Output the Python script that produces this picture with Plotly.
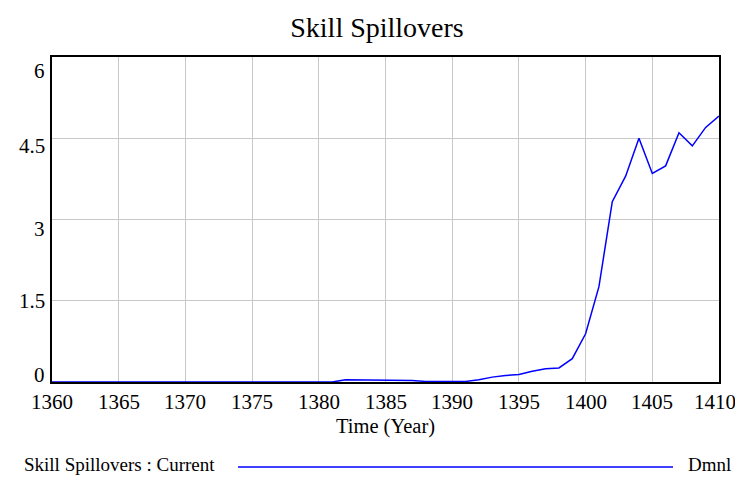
import plotly.graph_objects as go

# Skill Spillovers, Current run (Dmnl), yearly 1360-1410
years = list(range(1360, 1411))
spillovers = (
    [0.0] * 22  # 1360-1381
    + [0.04, 0.04, 0.04, 0.04, 0.04, 0.03]  # 1382-1387
    + [0.01, 0.01, 0.01, 0.01]  # 1388-1391
    + [0.04, 0.09, 0.12, 0.14, 0.20, 0.245, 0.26, 0.43, 0.89, 1.76]  # 1392-1401
    + [3.33, 3.80, 4.50, 3.85, 3.99, 4.60, 4.36, 4.70, 4.91]  # 1402-1410
)
y_ticks = [0, 1.5, 3, 4.5, 6]
y_labels = ["0", "1.5", "3", "4.5", "6"]
y_label_shift = [7, 0, -9, -8, -14]  # Vensim puts its labels a bit off the grid
x_ticks = list(range(1360, 1411, 5))

FONT = "Liberation Serif, Times New Roman, serif"

# page body has an 8px margin; figure sits at (8, 8), sized so nothing overflows
OFF = 8
W, H = 727, 468
PLOT_L, PLOT_R, PLOT_T, PLOT_B = 52, 719, 57, 382  # window pixels
L, R, T, B = PLOT_L - OFF, W + OFF - PLOT_R, PLOT_T - OFF, H + OFF - PLOT_B
pw, ph = PLOT_R - PLOT_L, PLOT_B - PLOT_T


def px_x(v):
    return (v - PLOT_L) / pw


def px_y(v):
    return (PLOT_B - v) / ph


fig = go.Figure()
fig.add_trace(
    go.Scatter(
        x=years,
        y=spillovers,
        mode="lines",
        line=dict(color="#0000ff", width=1.5),
        showlegend=False,
    )
)

axis_style = dict(
    showline=True,
    mirror=True,
    linecolor="black",
    linewidth=2,
    showgrid=True,
    gridcolor="#c8c8c8",
    gridwidth=1,
    zeroline=False,
    ticks="",
    showticklabels=False,
)

fig.update_xaxes(
    range=[1360, 1410],
    tickvals=x_ticks,
    title=dict(text="Time (Year)", font=dict(family=FONT, size=20.5, color="black"), standoff=36),
    **axis_style,
)
fig.update_yaxes(range=[0, 6], tickvals=y_ticks, **axis_style)

tick_font = dict(family=FONT, size=21, color="black")
for val, lab, shift in zip(y_ticks, y_labels, y_label_shift):
    fig.add_annotation(
        x=px_x(47), xref="paper", y=val, yref="y", yshift=shift, text=lab,
        showarrow=False, xanchor="right", yanchor="middle", font=tick_font,
    )

# x tick labels as text so the last one can be nudged inside the page edge
for val in x_ticks:
    fig.add_annotation(
        x=val, xref="x", y=px_y(402), yref="paper", text=str(val),
        xshift=-4 if val == x_ticks[-1] else 0,
        showarrow=False, xanchor="center", yanchor="middle", font=tick_font,
    )

# bottom legend: label, line sample, unit
legend_font = dict(family=FONT, size=19, color="black")
fig.add_annotation(
    x=px_x(22), y=px_y(464), xref="paper", yref="paper", text="Skill Spillovers : Current",
    showarrow=False, xanchor="left", yanchor="middle", font=legend_font,
)
fig.add_annotation(
    x=px_x(733), y=px_y(464), xref="paper", yref="paper", text="Dmnl",
    showarrow=False, xanchor="right", yanchor="middle", font=legend_font,
)
fig.add_shape(
    type="line", xref="paper", yref="paper",
    x0=px_x(238), x1=px_x(673), y0=px_y(467), y1=px_y(467),
    line=dict(color="#0000ff", width=1.5),
)

fig.update_layout(
    width=W,
    height=H,
    margin=dict(l=L, r=R, t=T, b=B),
    paper_bgcolor="white",
    plot_bgcolor="white",
    title=dict(
        text="Skill Spillovers", xref="paper", x=px_x(377), xanchor="center",
        y=1 - (27 - OFF) / H, yanchor="middle",
        font=dict(family=FONT, size=28, color="black"),
    ),
)

fig.write_html("out.html", config={"displayModeBar": False})
